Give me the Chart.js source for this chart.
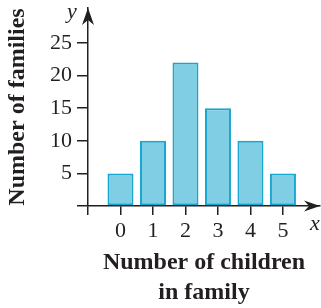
<!DOCTYPE html>
<html>
<head>
<meta charset="utf-8">
<script src="https://cdn.jsdelivr.net/npm/chart.js@4.4.1/dist/chart.umd.min.js"></script>
<style>
  html, body { margin: 0; padding: 0; background: #fff; }
  #wrap { width: 321px; height: 308px; }
</style>
</head>
<body>
<div id="wrap"><canvas id="children-chart" width="321" height="308"></canvas></div>
<script>
// data
var childCounts = [0, 1, 2, 3, 4, 5];
var familyCounts = [5, 10, 22, 15, 10, 5];
var xTickValues = [-1, 0, 1, 2, 3, 4, 5];
var yTickValues = [0, 5, 10, 15, 20, 25];

var ink = "#231f20";
var serif = "'Liberation Serif', 'DejaVu Serif', serif";

/**
 * Arrow heads and the x / y letters at the axis ends.
 */
var axisArrows = {
  id: "axisArrows",
  afterDraw: function (chart) {
    var c = chart.ctx, a = chart.chartArea;
    var y0 = chart.scales.y.getPixelForValue(0);
    var x0 = chart.scales.x.getPixelForValue(-1);
    c.save();
    c.fillStyle = ink;
    // up arrow
    c.beginPath();
    c.moveTo(x0, a.top);
    c.lineTo(x0 + 6, a.top + 17);
    c.lineTo(x0, a.top + 12);
    c.lineTo(x0 - 6, a.top + 17);
    c.closePath();
    c.fill();
    // right arrow
    c.beginPath();
    c.moveTo(a.right, y0);
    c.lineTo(a.right - 16, y0 - 5.5);
    c.lineTo(a.right - 11, y0);
    c.lineTo(a.right - 16, y0 + 5.5);
    c.closePath();
    c.fill();
    c.font = "italic 22px " + serif;
    c.textAlign = "center";
    c.textBaseline = "middle";
    c.fillText("y", x0 - 16, a.top + 4);
    c.fillText("x", a.right - 5, y0 + 18);
    c.restore();
  }
};

var ctx = document.getElementById("children-chart").getContext("2d");

var myChart = new Chart(ctx, {
  type: "bar",
  data: {
    datasets: [{
      data: childCounts.map(function (c, i) { return { x: c, y: familyCounts[i] }; }),
      backgroundColor: "#7fcee3",
      borderColor: "#17a6cf",
      borderWidth: 2,
      borderSkipped: false,
      categoryPercentage: 1,
      barPercentage: 0.8
    }]
  },
  options: {
    responsive: false,
    animation: false,
    events: [],
    layout: { padding: { top: 8, right: 1, left: 0, bottom: 0 } },
    plugins: { legend: { display: false }, tooltip: { enabled: false } },
    scales: {
      x: {
        type: "linear",
        offset: false,
        min: -1,
        max: 6.14,
        z: 1,
        afterFit: function (s) { s.height = 102; s.paddingLeft = 0; s.paddingRight = 0; },
        afterBuildTicks: function (s) { s.ticks = xTickValues.map(function (v) { return { value: v }; }); },
        grid: { drawOnChartArea: false, drawTicks: true, tickLength: 9, color: ink, lineWidth: 1.5, offset: false },
        border: { display: true, color: ink, width: 1.5 },
        ticks: {
          color: ink,
          padding: 3,
          maxRotation: 0,
          font: { family: serif, size: 22 },
          callback: function (v) { return v < 0 ? "" : String(v); }
        },
        title: {
          display: true,
          text: ["Number of children", "in family"],
          color: ink,
          padding: { top: 0, bottom: 0 },
          font: { family: serif, size: 24, weight: "bold", lineHeight: 1.25 }
        }
      },
      y: {
        min: 0,
        max: 30.37,
        afterFit: function (s) { s.width = 88; s.paddingTop = 0; s.paddingBottom = 0; },
        afterBuildTicks: function (s) { s.ticks = yTickValues.map(function (v) { return { value: v }; }); },
        grid: { drawOnChartArea: false, drawTicks: true, tickLength: 11, color: ink, lineWidth: 1.5 },
        border: { display: true, color: ink, width: 1.5 },
        ticks: {
          color: ink,
          padding: 5,
          font: { family: serif, size: 22 },
          callback: function (v) { return v === 0 ? "" : String(v); }
        },
        title: {
          display: true,
          text: "Number of families",
          color: ink,
          padding: { top: 3, bottom: 0 },
          font: { family: serif, size: 24, weight: "bold", lineHeight: 1.2 }
        }
      }
    }
  },
  plugins: [axisArrows]
});
</script>
</body>
</html>
